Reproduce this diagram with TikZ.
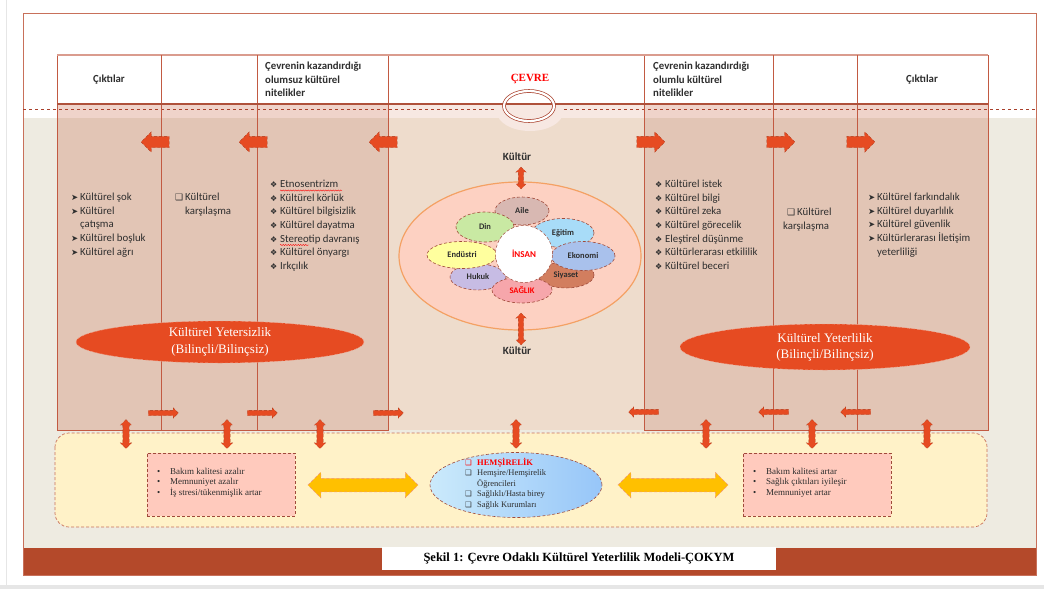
\documentclass[tikz,border=0pt]{standalone}
\usepackage{fontspec}
\setmainfont{Carlito}
\newfontfamily\seriff{Liberation Serif}
\newfontfamily\symf{DejaVu Sans}
\usetikzlibrary{shapes.arrows,shapes.geometric,decorations.pathmorphing}

\definecolor{frame}{HTML}{C8705A}
\definecolor{linec}{HTML}{C25A42}
\definecolor{colfill}{HTML}{E2C5B5}
\definecolor{midfill}{HTML}{EEDCCC}
\definecolor{stripc}{HTML}{EFD3CA}
\definecolor{stripm}{HTML}{F7E8E2}
\definecolor{beige}{HTML}{EEEBE1}
\definecolor{orng}{HTML}{E64B22}
\definecolor{yel}{HTML}{FFF2C8}
\definecolor{pinkb}{HTML}{FFCABD}
\definecolor{bar}{HTML}{B4492A}
\definecolor{ringc}{HTML}{A9402C}
\definecolor{bigell}{HTML}{FDD1C2}
\definecolor{bigedge}{HTML}{F4A164}
\definecolor{petalbr}{HTML}{A04A3A}
\definecolor{metin}{HTML}{2E2E2E}
\definecolor{sayfa}{HTML}{E6E6E6}
\definecolor{aile}{HTML}{D8B8B2}
\definecolor{egitim}{HTML}{A8DCF8}
\definecolor{ekonomi}{HTML}{A9C1EC}
\definecolor{siyaset}{HTML}{D27E5F}
\definecolor{saglik}{HTML}{F6A6AB}
\definecolor{hukuk}{HTML}{C7BCE4}
\definecolor{endustri}{HTML}{FFFF9E}
\definecolor{din}{HTML}{C9E9A3}
\definecolor{sari}{HTML}{FFC000}

\newcommand{\okuc}{\makebox[9pt][l]{\symf\fontsize{8.5}{8.5}\selectfont ➤}}
\newcommand{\elmas}{\makebox[10pt][l]{\symf\fontsize{8}{8}\selectfont ❖}}
\newcommand{\kutu}{\makebox[10pt][l]{\symf\fontsize{9}{9}\selectfont ❑}}
\newcommand{\nokta}{\makebox[13pt][l]{•}}
\newcommand{\kutuk}{\makebox[12pt][l]{\symf\fontsize{7.5}{7.5}\selectfont ❑}}

\tikzset{
  buyukok/.style={single arrow, fill=orng, draw=orng!75!black, densely dashed,
    line width=0.3pt, inner sep=5.5pt, minimum width=20pt, minimum height=28pt,
    single arrow head extend=4.5pt},
  kucukok/.style={single arrow, fill=orng, draw=orng!75!black, densely dashed,
    line width=0.3pt, inner sep=2.5pt, minimum width=10pt, minimum height=30pt,
    single arrow head extend=2.5pt},
  ciftok/.style={double arrow, fill=orng, draw=orng!75!black, densely dashed,
    line width=0.3pt, inner sep=3pt, minimum width=11pt, minimum height=29pt,
    double arrow head extend=2.5pt, rotate=90},
  sariok/.style={double arrow, fill=sari, draw=orng!60, densely dashed,
    line width=0.5pt, inner sep=6.5pt, minimum width=25pt, minimum height=110pt,
    double arrow head extend=6pt},
  yaprak/.style={ellipse, draw=petalbr, densely dashed, line width=0.6pt,
    font=\bfseries\fontsize{8.5}{8.5}\selectfont},
  sutun/.style={anchor=north west, align=left, font=\fontsize{10.8}{13.6}\selectfont},
  baslik/.style={font=\bfseries\fontsize{10.8}{13.5}\selectfont},
  kutum/.style={anchor=north west, align=left, font=\seriff\fontsize{9}{10.5}\selectfont}
}

\begin{document}
\begin{tikzpicture}[x=1pt,y=-1pt,every node/.style={inner sep=0pt,text=metin}]
  \useasboundingbox (0,0) rectangle (1044,589);
  % Zemin
  \fill[white] (0,0) rectangle (1044,589);
  \fill[sayfa] (0,585) rectangle (1044,589);
  \draw[sayfa] (6,0) -- (6,585);
  \fill[beige] (23,118) rectangle (1036,548);
  \fill[bar] (23,548) rectangle (1036,575);
  \draw[frame, line width=0.8pt] (23,13) rectangle (1036,575);

  % Sutunlar
  \fill[colfill] (57,104) rectangle (388,430);
  \fill[colfill] (644,104) rectangle (988,430);
  \fill[midfill] (388,104) rectangle (644,430);
  \fill[stripc] (57,104) rectangle (388,118);
  \fill[stripc] (644,104) rectangle (988,118);
  \fill[stripm] (388,104) rectangle (644,118);
  \begin{scope}
    \clip (388,104) rectangle (644,140);
    \fill[stripm] (530,112) ellipse (33 and 19);
  \end{scope}
  \fill[white] (57,55) rectangle (988,104);

  \draw[ringc, dashed, line width=0.6pt] (23,109) -- (495,109);
  \draw[ringc, dashed, line width=0.6pt] (564,109) -- (1036,109);

  \draw[linec, line width=0.8pt] (57,55) rectangle (388,430);
  \draw[linec, line width=0.8pt] (644,55) rectangle (988,430);
  \draw[linec!60, line width=1.5pt] (57,55) -- (988,55);
  \foreach \x in {161,257,773,857} \draw[linec, line width=0.8pt] (\x,55) -- (\x,430);
  \draw[linec!90!black, line width=1.8pt] (57,104) -- (988,104);

  % Basliklar
  \node[baslik] (cikti1) at (109,80) {Çıktılar};
  \node[baslik, anchor=north west, align=left] (olumsuz) at (265,62) {Çevrenin kazandırdığı\\olumsuz kültürel\\nitelikler};
  \node[font=\seriff\bfseries\fontsize{11}{11}\selectfont, text=red] (cevre) at (530,79) {ÇEVRE};
  \draw[ringc, line width=0.7pt, double=white, double distance=2.2pt] (529,106) ellipse (25 and 15);
  \node[baslik, anchor=north west, align=left] (olumlu) at (653,62) {Çevrenin kazandırdığı\\olumlu kültürel\\nitelikler};
  \node[baslik] (cikti2) at (922,80) {Çıktılar};

  % Ust oklar
  \node[buyukok, rotate=180] (ok1) at (158,142) {};
  \node[buyukok, rotate=180] (ok2) at (256,142) {};
  \node[buyukok, rotate=180] (ok3) at (386,142) {};
  \node[buyukok] (ok4) at (648,142) {};
  \node[buyukok] (ok5) at (778,142) {};
  \node[buyukok] (ok6) at (858,142) {};

  % Sol sutun metinleri
  \node[sutun] (sonuc1) at (71,193) {\okuc Kültürel şok\\\okuc Kültürel\\\hspace*{9pt}çatışma\\\okuc Kültürel boşluk\\\okuc Kültürel ağrı};
  \node[sutun] (karsi1) at (175,193) {\kutu Kültürel\\\hspace*{10pt}karşılaşma};
  \node[sutun] (olumsuzl) at (270,180) {\elmas Etnosentrizm\\\elmas Kültürel körlük\\\elmas Kültürel bilgisizlik\\\elmas Kültürel dayatma\\\elmas Stereotip davranış\\\elmas Kültürel önyargı\\\elmas Irkçılık};
  \draw[red, decorate, decoration={snake, amplitude=0.6pt, segment length=2.5pt}] (280,190.5) -- (342,190.5);
  \draw[red, decorate, decoration={snake, amplitude=0.6pt, segment length=2.5pt}] (280,245) -- (309,245);

  % Sag sutun metinleri
  \node[sutun] (olumlul) at (655,180) {\elmas Kültürel istek\\\elmas Kültürel bilgi\\\elmas Kültürel zeka\\\elmas Kültürel görecelik\\\elmas Eleştirel düşünme\\\elmas Kültürlerarası etkililik\\\elmas Kültürel beceri};
  \node[sutun] (karsi2) at (783,208) {\hspace*{4pt}\kutu Kültürel\\karşılaşma};
  \node[sutun] (sonuc2) at (868,193) {\okuc Kültürel farkındalık\\\okuc Kültürel duyarlılık\\\okuc Kültürel güvenlik\\\okuc Kültürlerarası İletişim\\\hspace*{9pt}yeterliliği};

  % Orta: cevre ve insan
  \node[font=\bfseries\fontsize{11}{11}\selectfont] (kultur1) at (517,157) {Kültür};
  \node[ellipse, minimum width=242pt, minimum height=148pt, fill=bigell, draw=bigedge, line width=1.2pt] (cevreel) at (520,256) {};
  \node[ciftok, minimum height=22pt, minimum width=10pt, inner sep=2.5pt] (kok1) at (521,178) {};
  \node[ciftok, minimum height=32pt, minimum width=10pt, inner sep=2.5pt] (kok2) at (521,329) {};
  \node[font=\bfseries\fontsize{11}{11}\selectfont] (kultur2) at (517,351) {Kültür};

  \node[yaprak, fill=aile, minimum width=54pt, minimum height=28pt] (aile) at (522,211) {Aile};
  \node[yaprak, fill=siyaset, minimum width=56pt, minimum height=26pt] (siyaset) at (566,275) {Siyaset};
  \node[yaprak, fill=hukuk, minimum width=56pt, minimum height=26pt] (hukuk) at (478,277) {Hukuk};
  \node[yaprak, fill=din, minimum width=58pt, minimum height=30pt] (din) at (485,227) {Din};
  \node[yaprak, fill=egitim, minimum width=62pt, minimum height=29pt] (egitim) at (563,233) {Eğitim};
  \node[yaprak, fill=ekonomi, minimum width=64pt, minimum height=29pt] (ekonomi) at (583,256) {Ekonomi};
  \node[yaprak, fill=saglik, minimum width=60pt, minimum height=26pt, text=red] (saglik) at (522,290) {SAĞLIK};
  \node[yaprak, fill=endustri, minimum width=70pt, minimum height=27pt] (endustri) at (462,255) {Endüstri};
  \node[circle, fill=white, draw=petalbr, densely dashed, line width=0.5pt, minimum size=57pt, text=red, font=\bfseries\fontsize{9}{9}\selectfont] (insan) at (524,254) {İNSAN};

  % Ellipsler
  \node[ellipse, fill=orng, draw=orng!50, densely dashed, minimum width=288pt, minimum height=42pt, text=white, align=center, font=\seriff\fontsize{13}{17}\selectfont] (yetersiz) at (220,342) {Kültürel Yetersizlik\\(Bilinçli/Bilinçsiz)};
  \node[ellipse, fill=orng, draw=orng!50, densely dashed, minimum width=290pt, minimum height=46pt, text=white, align=center, font=\seriff\fontsize{13}{16}\selectfont] (yeterli) at (825,347) {Kültürel Yeterlilik\\(Bilinçli/Bilinçsiz)};

  % Alt kucuk oklar
  \node[kucukok] (ak1) at (162,413) {};
  \node[kucukok] (ak2) at (261,413) {};
  \node[kucukok] (ak3) at (387,413) {};
  \node[kucukok, rotate=180] (ak4) at (645,412) {};
  \node[kucukok, rotate=180] (ak5) at (775,412) {};
  \node[kucukok, rotate=180] (ak6) at (857,412) {};

  % Hemsirelik alani
  \draw[fill=yel, draw=frame, densely dashed, line width=0.7pt, rounded corners=14pt] (55,433) rectangle (987,527);
  \foreach \x in {126,227,320,516,706,812,927}
    \node[ciftok] at (\x,434) {};

  \node[draw=petalbr, densely dashed, fill=pinkb, minimum width=148pt, minimum height=63pt] (azalir) at (221,484.5) {};
  \node[kutum] (azalirt) at (157,468) {\nokta Bakım kalitesi azalır\\\nokta Memnuniyet azalır\\\nokta İş stresi/tükenmişlik artar};
  \node[draw=petalbr, densely dashed, fill=pinkb, minimum width=148pt, minimum height=63pt] (artar) at (817,484.5) {};
  \node[kutum] (artart) at (753,468) {\nokta Bakım kalitesi artar\\\nokta Sağlık çıktıları iyileşir\\\nokta Memnuniyet artar};

  \node[sariok] (sari1) at (363,485) {};
  \node[sariok] (sari2) at (673,485) {};

  \node[ellipse, left color=egitim!60, right color=egitim!90!blue, draw=petalbr, densely dashed, line width=0.6pt, minimum width=172pt, minimum height=65pt] (hemsire) at (516,485) {};
  \node[kutum, font=\seriff\fontsize{8.5}{10.4}\selectfont] (hemsiret) at (465,458) {\textcolor{red}{\kutuk\bfseries HEMŞİRELİK}\\\kutuk Hemşire/Hemşirelik\\\hspace*{12pt}Öğrencileri\\\kutuk Sağlıklı/Hasta birey\\\kutuk Sağlık Kurumları};

  % Sekil yazisi
  \fill[white] (382,547) rectangle (776,570);
  \node[font=\seriff\bfseries\fontsize{12.5}{12.5}\selectfont, text=black] (sekil) at (579,558) {Şekil 1: Çevre Odaklı Kültürel Yeterlilik Modeli-ÇOKYM};
\end{tikzpicture}
\end{document}
